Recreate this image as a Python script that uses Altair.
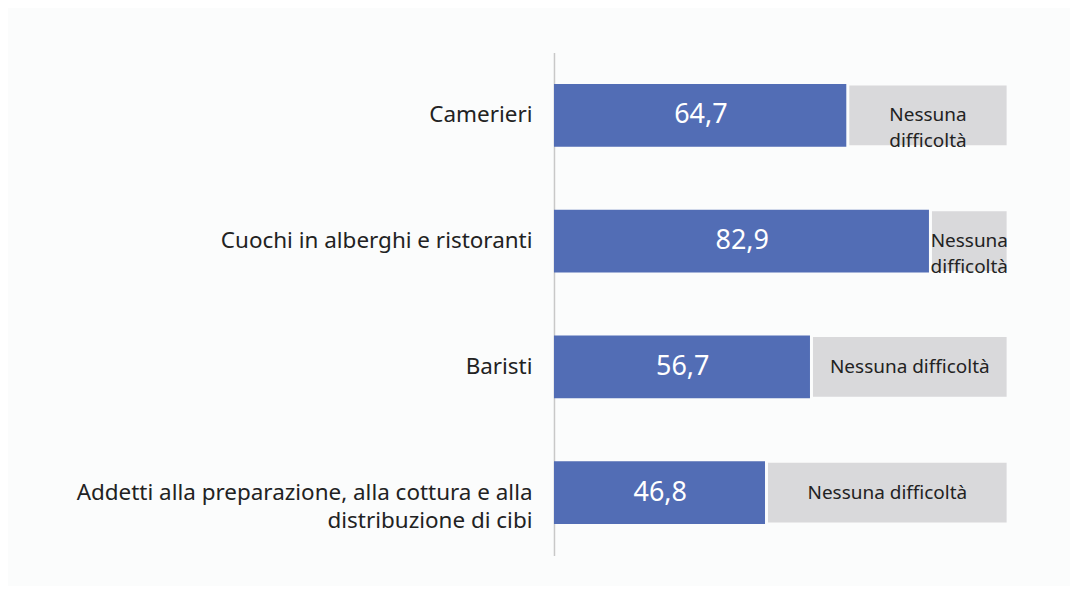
import altair as alt
import pandas as pd

categories = ["Camerieri", "Cuochi in alberghi e ristoranti", "Baristi",
              "Addetti alla preparazione, alla cottura e alla|distribuzione di cibi"]
values = [64.7, 82.9, 56.7, 46.8]
rest_labels = ["Nessuna\ndifficoltà", "Nessuna\ndifficoltà", "Nessuna difficoltà", "Nessuna difficoltà"]

df = pd.DataFrame({"cat": categories, "v": values, "rest": rest_labels})

FONT = "Noto Sans"
BG = "#fbfcfc"

y = alt.Y("cat:N", sort=categories, title=None,
          scale=alt.Scale(paddingInner=0.5, paddingOuter=0.25),
          axis=alt.Axis(ticks=False, domainColor="#c8c8c8", domainWidth=1.5,
                        labelFont=FONT, labelFontSize=22.5, labelColor="#222222",
                        labelPadding=22, labelLimit=600, minExtent=547, maxExtent=547,
                        labelExpr="split(datum.label, '|')", labelLineHeight=28))

xs = alt.Scale(domain=[0, 100], nice=False)

base = alt.Chart(df).encode(y=y)

blue = base.mark_bar(color="#526db5").encode(
    x=alt.X("zero:Q", scale=xs, axis=None), x2="v:Q"
).transform_calculate(zero="0")

grey = base.mark_bar(color="#d9d9db", stroke=BG, strokeWidth=3).encode(
    x=alt.X("v:Q", scale=xs, axis=None), x2="hundred:Q"
).transform_calculate(hundred="100")

vtext = base.mark_text(color="white", font=FONT, fontSize=27, align="center", baseline="middle").encode(
    x=alt.X("mid:Q", scale=xs, axis=None), text="lab:N"
).transform_calculate(mid="datum.v/2", lab="replace(format(datum.v, '.1f'), '.', ',')")

rtext = base.mark_text(color="#222222", font=FONT, fontSize=19, align="center", baseline="middle",
                       lineBreak="\n", lineHeight=26).encode(
    x=alt.X("mid2:Q", scale=xs, axis=None), text="rest:N"
).transform_calculate(mid2="(datum.v+100)/2")

chart = alt.layer(blue, grey, vtext, rtext).properties(
    width=455, height=504, background=BG,
    padding={"left": 0, "top": 44, "right": 60, "bottom": 30}
).configure_view(stroke=None)

chart.save("out.html", embed_options={"renderer": "svg", "actions": False})
